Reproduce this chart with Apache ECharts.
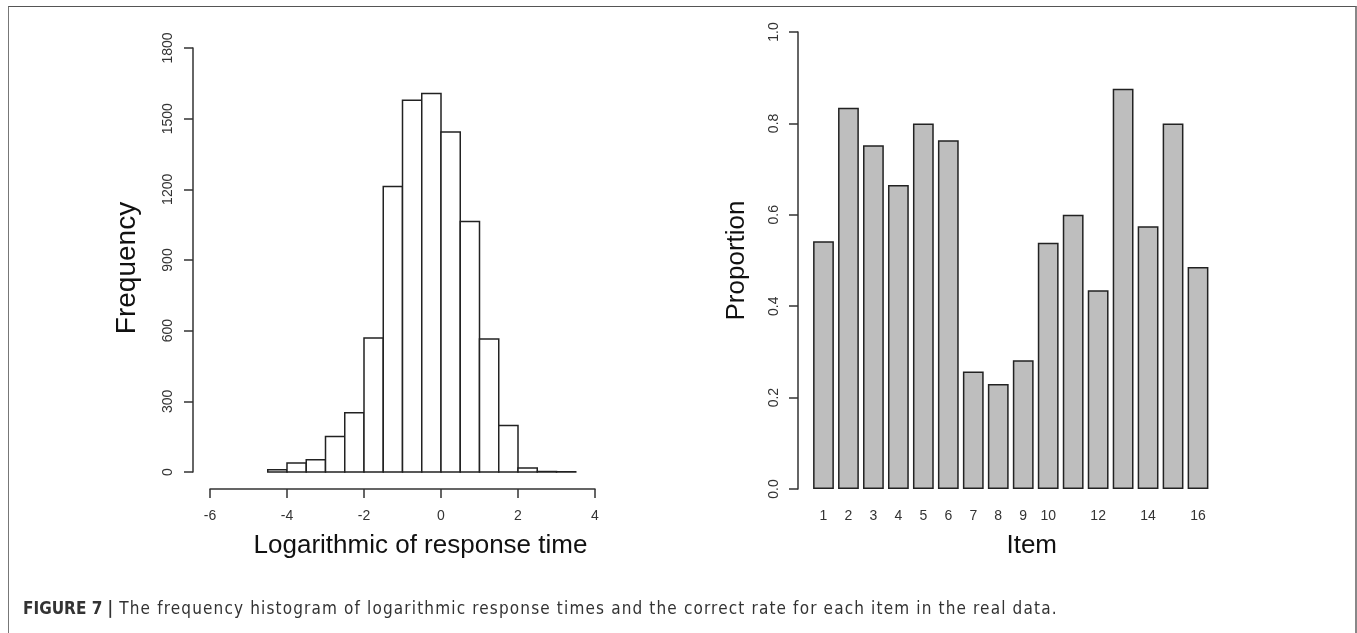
<!DOCTYPE html>
<html>
<head>
<meta charset="utf-8">
<title>Figure 7</title>
<script src="https://cdn.jsdelivr.net/npm/echarts@6/dist/echarts.min.js"></script>
<style>
  html, body { margin: 0; padding: 0; background: #fff; }
  #frame {
    position: absolute; left: 8px; top: 6px; width: 1349px; height: 660px;
    box-sizing: border-box;
    border-left: 1px solid #777; border-top: 1.5px solid #555; border-right: 2px solid #888;
  }
  #chart { position: absolute; left: 0; top: 0; width: 1357px; height: 633px; }
  #caption {
    position: absolute; left: 23px; top: 598px; white-space: nowrap;
    font-family: "DejaVu Sans Condensed", "Liberation Sans", sans-serif;
    font-size: 17px; line-height: 20px; color: #333; letter-spacing: 1.15px;
  }
  #caption b { letter-spacing: 0; }
</style>
</head>
<body>
<div id="frame"></div>
<div id="chart"></div>
<div id="caption"></div>
<script>
// left panel: histogram of log response time (bins of 0.5)
const binStarts = [-4.5, -4, -3.5, -3, -2.5, -2, -1.5, -1, -0.5, 0, 0.5, 1, 1.5, 2, 2.5, 3];
const binEnds   = [-4, -3.5, -3, -2.5, -2, -1.5, -1, -0.5, 0, 0.5, 1, 1.5, 2, 2.5, 3, 3.5];
const counts    = [10, 38, 52, 151, 252, 569, 1212, 1578, 1607, 1443, 1063, 565, 197, 17, 2, 1];

// right panel: proportion correct per item
const items = ['1', '2', '3', '4', '5', '6', '7', '8', '9', '10', '11', '12', '13', '14', '15', '16'];
const proportions = [0.542, 0.834, 0.752, 0.665, 0.800, 0.763, 0.257, 0.230, 0.282, 0.539,
                     0.600, 0.435, 0.876, 0.575, 0.800, 0.486];

const captionBold = 'FIGURE 7 |';
const captionText = 'The frequency histogram of logarithmic response times and the correct rate for each item in the real data.';

const FONT = '"Liberation Sans", Arial, sans-serif';
const axisColor = '#333';

const histData = binStarts.map((s, i) => [s, binEnds[i], counts[i]]);

const tickLabel = { fontFamily: FONT, fontSize: 14, color: '#333' };

// caption sits under both panels as plain page text
const cap = document.getElementById('caption');
const capBold = document.createElement('b');
capBold.textContent = captionBold;
cap.appendChild(capBold);
cap.appendChild(document.createTextNode(' ' + captionText));

const chart = echarts.init(document.getElementById('chart'));

chart.setOption({
  animation: false,
  textStyle: { fontFamily: FONT },
  grid: [
    { left: 210, top: 48, width: 385, height: 424 },
    { left: 811, top: 32, width: 399.5, height: 457 }
  ],
  xAxis: [
    {
      gridIndex: 0,
      type: 'value',
      min: -6,
      max: 4,
      interval: 2,
      offset: 17,
      name: 'Logarithmic of response time',
      nameLocation: 'middle',
      nameGap: 44,
      nameTextStyle: { fontFamily: FONT, fontSize: 26, color: '#111', padding: [0, 0, 0, 36] },
      axisLine: { show: true, onZero: false, lineStyle: { color: axisColor, width: 1.5 } },
      axisTick: { show: true, length: 9, lineStyle: { color: axisColor, width: 1.5 } },
      axisLabel: Object.assign({ margin: 20 }, tickLabel),
      splitLine: { show: false }
    },
    {
      gridIndex: 1,
      type: 'category',
      data: items,
      name: 'Item',
      nameLocation: 'middle',
      nameGap: 44,
      nameTextStyle: { fontFamily: FONT, fontSize: 26, color: '#111', padding: [0, 0, 0, 42] },
      axisLine: { show: false, onZero: false },
      axisTick: { show: false },
      axisLabel: Object.assign({
        margin: 20,
        interval: (i) => i < 10 || i % 2 === 1
      }, tickLabel)
    }
  ],
  yAxis: [
    {
      gridIndex: 0,
      type: 'value',
      min: 0,
      max: 1800,
      interval: 300,
      offset: 17,
      name: 'Frequency',
      nameLocation: 'middle',
      nameGap: 52,
      nameTextStyle: { fontFamily: FONT, fontSize: 28, color: '#111', padding: [0, 16, 0, 0] },
      axisLine: { show: true, onZero: false, lineStyle: { color: axisColor, width: 1.5 } },
      axisTick: { show: true, length: 9, lineStyle: { color: axisColor, width: 1.5 } },
      axisLabel: Object.assign({
        rotate: 90, margin: 18,
        formatter: (v) => String(v)
      }, tickLabel),
      splitLine: { show: false }
    },
    {
      gridIndex: 1,
      type: 'value',
      min: 0,
      max: 1,
      interval: 0.2,
      offset: 13,
      name: 'Proportion',
      nameLocation: 'middle',
      nameGap: 48,
      nameTextStyle: { fontFamily: FONT, fontSize: 26, color: '#111' },
      axisLine: { show: true, onZero: false, lineStyle: { color: axisColor, width: 1.5 } },
      axisTick: { show: true, length: 9, lineStyle: { color: axisColor, width: 1.5 } },
      axisLabel: Object.assign({
        rotate: 90, margin: 17,
        formatter: (v) => v.toFixed(1)
      }, tickLabel),
      splitLine: { show: false }
    }
  ],
  series: [
    {
      type: 'custom',
      xAxisIndex: 0,
      yAxisIndex: 0,
      data: histData,
      renderItem: (params, api) => {
        const topLeft = api.coord([api.value(0), api.value(2)]);
        const bottomRight = api.coord([api.value(1), 0]);
        return {
          type: 'rect',
          shape: {
            x: topLeft[0],
            y: topLeft[1],
            width: bottomRight[0] - topLeft[0],
            height: bottomRight[1] - topLeft[1]
          },
          style: { fill: '#fff', stroke: '#222', lineWidth: 1.5 }
        };
      }
    },
    {
      type: 'bar',
      xAxisIndex: 1,
      yAxisIndex: 1,
      data: proportions,
      barWidth: '83.3%',
      itemStyle: { color: '#bebebe', borderColor: '#222', borderWidth: 1.5 }
    }
  ]
});
</script>
</body>
</html>
